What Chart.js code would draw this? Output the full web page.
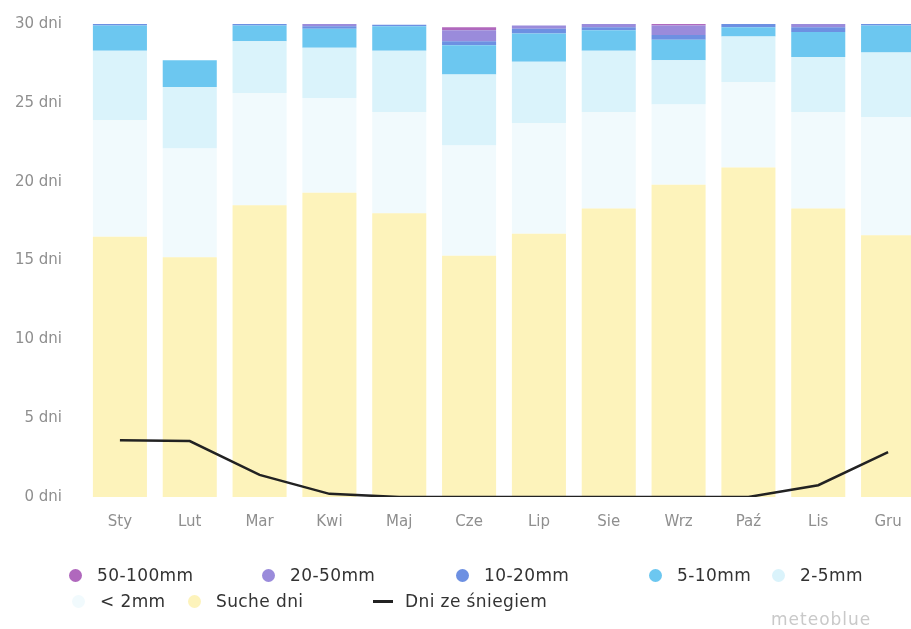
<!DOCTYPE html>
<html>
<head>
<meta charset="utf-8">
<script src="https://cdn.jsdelivr.net/npm/chart.js@4/dist/chart.umd.min.js"></script>
<style>
  html, body { margin: 0; padding: 0; background: #fff; width: 911px; height: 629px; overflow: hidden; }
  #wrap { position: absolute; left: 0; top: 0; width: 935px; height: 539px; }
  #legend { position: absolute; left: 0; top: 0; width: 911px; height: 629px; pointer-events: none;
            font-family: "DejaVu Sans", sans-serif; font-size: 17px; letter-spacing: 0.4px; color: #333; }
  #legend .item { position: absolute; display: flex; align-items: center; height: 20px; white-space: pre; }
  #legend .dot { width: 13px; height: 13px; border-radius: 50%; margin-right: 15px; flex: none; }
  #legend .dash { width: 20px; height: 3px; margin-right: 12px; flex: none; }
  #brand { position: absolute; left: 771px; top: 609px; font-family: "DejaVu Sans", sans-serif;
           font-size: 17px; color: #c9c9c9; letter-spacing: 1px; }
</style>
</head>
<body>
<div id="wrap"><canvas id="chart"></canvas></div>
<div id="legend"></div>
<div id="brand">meteoblue</div>
<script>
// Months and tick unit
const months = ['Sty', 'Lut', 'Mar', 'Kwi', 'Maj', 'Cze', 'Lip', 'Sie', 'Wrz', 'Paź', 'Lis', 'Gru'];
const yTicks = [0, 5, 10, 15, 20, 25, 30];
const tickUnit = 'dni';

// Days per month in each precipitation class
const dryDays   = [16.5, 15.2, 18.5, 19.3, 18.0, 15.3, 16.7, 18.3, 19.8, 20.9, 18.3, 16.6];
const under2mm  = [7.4, 6.9, 7.1, 6.0, 6.4, 7.0, 7.0, 6.1, 5.1, 5.4, 6.1, 7.5];
const mm2to5    = [4.4, 3.9, 3.3, 3.2, 3.9, 4.5, 3.9, 3.9, 2.8, 2.9, 3.5, 4.1];
const mm5to10   = [1.6, 1.7, 1.0, 1.2, 1.55, 1.85, 1.8, 1.3, 1.3, 0.6, 1.6, 1.7];
const mm10to20  = [0.1, 0, 0.1, 0.15, 0.1, 0.25, 0.3, 0.2, 0.3, 0.2, 0.3, 0.1];
const mm20to50  = [0, 0, 0, 0.15, 0, 0.7, 0.2, 0.2, 0.6, 0, 0.2, 0];
const mm50to100 = [0, 0, 0, 0, 0, 0.2, 0, 0, 0.1, 0, 0, 0];

// Days with snow
const snowDays  = [3.6, 3.55, 1.4, 0.2, 0, 0, 0, 0, 0, 0, 0.75, 2.85];

function barSet(label, data, color) {
  return { type: 'bar', label, data, backgroundColor: color, borderWidth: 0,
           stack: 'rain', order: 1, barPercentage: 0.774, categoryPercentage: 1 };
}

const datasets = [
  barSet('Suche dni', dryDays, '#fdf3bb'),
  barSet('< 2mm', under2mm, '#f1fafd'),
  barSet('2-5mm', mm2to5, '#daf3fb'),
  barSet('5-10mm', mm5to10, '#6cc7f0'),
  barSet('10-20mm', mm10to20, '#6d90e2'),
  barSet('20-50mm', mm20to50, '#9a8bdb'),
  barSet('50-100mm', mm50to100, '#b068bd'),
  { type: 'line', label: 'Dni ze śniegiem', data: snowDays, borderColor: '#222', backgroundColor: '#222',
    borderWidth: 2.5, pointRadius: 0, tension: 0, fill: false, stack: 'snow', order: 0 }
];

const tickFont = { family: '"DejaVu Sans", sans-serif', size: 15 };

// Legend slots (left edge of each marker, row centre line) in page pixels
const legendSlots = [
  [69, 575], [262, 575], [456, 575], [649, 575], [772, 575],
  [72, 601], [188, 601], [373, 601]
];

// Legend rendered as HTML below the canvas: bar classes top-down, then the line
const htmlLegend = {
  id: 'htmlLegend',
  afterUpdate(chart) {
    const box = document.getElementById('legend');
    box.innerHTML = '';
    const ds = chart.data.datasets;
    const bars = ds.filter(d => d.type === 'bar').reverse();
    const lines = ds.filter(d => d.type === 'line');
    [...bars, ...lines].forEach((d, i) => {
      const item = document.createElement('div');
      item.className = 'item';
      item.style.left = legendSlots[i][0] + 'px';
      item.style.top = (legendSlots[i][1] - 10) + 'px';
      const mark = document.createElement('span');
      mark.className = d.type === 'line' ? 'dash' : 'dot';
      mark.style.background = d.type === 'line' ? d.borderColor : d.backgroundColor;
      const txt = document.createElement('span');
      txt.textContent = d.label;
      item.appendChild(mark);
      item.appendChild(txt);
      box.appendChild(item);
    });
  }
};

new Chart(document.getElementById('chart'), {
  data: { labels: months, datasets },
  options: {
    responsive: true,
    maintainAspectRatio: false,
    animation: false,
    layout: { padding: { left: 10, right: 12, top: 16, bottom: 0 } },
    plugins: { legend: { display: false }, tooltip: { enabled: false } },
    scales: {
      x: {
        stacked: true,
        grid: { display: false },
        border: { display: false },
        ticks: { color: '#8f8f8f', font: tickFont, padding: 8 }
      },
      y: {
        stacked: true,
        min: 0, max: 30,
        afterBuildTicks(scale) { scale.ticks = yTicks.map(v => ({ value: v })); },
        afterFit(scale) { scale.width = 75; },
        grid: { display: false },
        border: { display: false },
        ticks: { color: '#8f8f8f', font: tickFont, padding: 15,
                 callback: v => v + ' ' + tickUnit }
      }
    }
  },
  plugins: [htmlLegend]
});
</script>
</body>
</html>
